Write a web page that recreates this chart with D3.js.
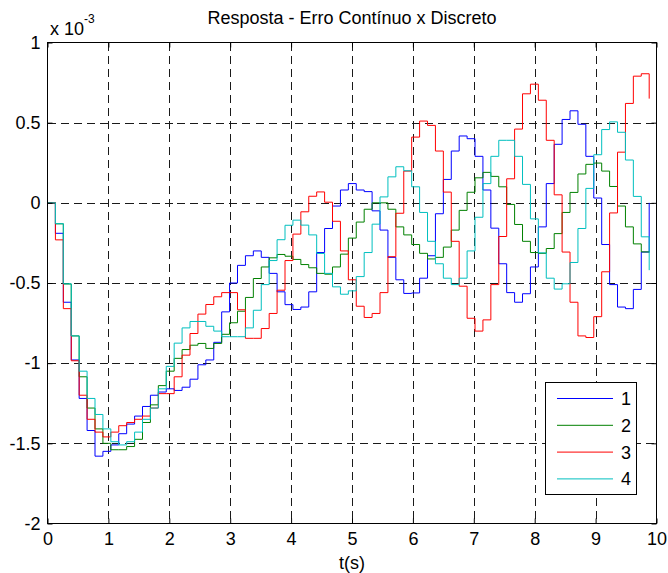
<!DOCTYPE html>
<html>
<head>
<meta charset="utf-8">
<script src="https://cdn.jsdelivr.net/npm/d3@7"></script>
<style>
  html, body { margin: 0; padding: 0; background: #fff; }
  svg { display: block; }
  text { font-family: "Liberation Sans", Arial, sans-serif; fill: #000; }
</style>
</head>
<body>
<svg id="chart" width="668" height="573"></svg>
<script>
// ---- data (values in units of 1e-3) ----
const sampleTime = 0.13;   // seconds between samples
const xTickValues = [0, 1, 2, 3, 4, 5, 6, 7, 8, 9, 10];
const yTickValues = [1, 0.5, 0, -0.5, -1, -1.5, -2];
const yTickLabels = ["1", "0.5", "0", "-0.5", "-1", "-1.5", "-2"];
const seriesNames = ["1", "2", "3", "4"];
const seriesColors = ["#0000ff", "#008000", "#ff0000", "#00bfbf"];

const serie1 = [0, -0.19, -0.62, -0.98, -1.22, -1.42, -1.58, -1.55, -1.51, -1.44,
  -1.38, -1.33, -1.27, -1.20, -1.18, -1.16, -1.17, -1.15, -1.10, -1.01,
  -0.98, -0.87, -0.68, -0.50, -0.39, -0.33, -0.30, -0.34, -0.44, -0.555,
  -0.635, -0.665, -0.65, -0.555, -0.31, -0.16, -0.02, 0.08, 0.12, 0.08,
  0.07, -0.05, -0.17, -0.34, -0.48, -0.565, -0.562, -0.47, -0.33, -0.068,
  0.146, 0.323, 0.417, 0.40, 0.29, 0.08, -0.158, -0.38, -0.56, -0.62,
  -0.567, -0.40, -0.15, 0.12, 0.365, 0.52, 0.574, 0.49, 0.29, 0.03,
  -0.26, -0.51, -0.65, -0.66, -0.54, -0.307, 0.0];

const serie2 = [0, -0.131, -0.506, -0.83, -1.085, -1.28, -1.41, -1.50, -1.54, -1.54,
  -1.52, -1.475, -1.37, -1.26, -1.14, -1.05, -0.97, -0.915, -0.888, -0.877,
  -0.908, -0.877, -0.82, -0.748, -0.676, -0.59, -0.472, -0.40, -0.343, -0.322,
  -0.333, -0.353, -0.385, -0.405, -0.44, -0.445, -0.40, -0.32, -0.22, -0.12,
  -0.04, 0.0, 0.0, -0.04, -0.15, -0.20, -0.26, -0.315, -0.35, -0.34,
  -0.276, -0.17, -0.047, 0.066, 0.156, 0.19, 0.165, 0.10, -0.01, -0.135,
  -0.24, -0.31, -0.315, -0.285, -0.192, -0.06, 0.065, 0.18, 0.24, 0.248,
  0.198, 0.102, -0.02, -0.15, -0.256, -0.306, -0.31];

const serie3 = [0, -0.231, -0.66, -0.985, -1.2, -1.35, -1.43, -1.46, -1.43, -1.39,
  -1.37, -1.35, -1.33, -1.28, -1.19, -1.19, -1.085, -0.95, -0.815, -0.694,
  -0.634, -0.586, -0.56, -0.56, -0.667, -0.845, -0.845, -0.784, -0.69, -0.545,
  -0.36, -0.195, -0.056, 0.041, 0.068, 0.004, -0.115, -0.30, -0.48, -0.645,
  -0.715, -0.69, -0.56, -0.336, -0.065, 0.198, 0.41, 0.51, 0.483, 0.323,
  0.067, -0.24, -0.52, -0.72, -0.80, -0.73, -0.51, -0.21, 0.15, 0.46,
  0.68, 0.74, 0.64, 0.39, 0.05, -0.307, -0.62, -0.83, -0.84, -0.71,
  -0.43, -0.063, 0.316, 0.62, 0.79, 0.805, 0.65];

const serie4 = [0, -0.13, -0.505, -0.83, -1.05, -1.22, -1.32, -1.41, -1.49, -1.51,
  -1.49, -1.43, -1.35, -1.28, -1.16, -1.02, -0.875, -0.78, -0.74, -0.74,
  -0.77, -0.80, -0.835, -0.835, -0.835, -0.78, -0.67, -0.51, -0.36, -0.23,
  -0.14, -0.108, -0.139, -0.20, -0.316, -0.44, -0.524, -0.57, -0.549, -0.46,
  -0.31, -0.133, 0.037, 0.162, 0.225, 0.2, 0.1, -0.06, -0.24, -0.38,
  -0.47, -0.51, -0.47, -0.30, -0.09, 0.12, 0.29, 0.39, 0.39, 0.29,
  0.115, -0.10, -0.312, -0.47, -0.538, -0.505, -0.372, -0.16, 0.09, 0.30,
  0.457, 0.505, 0.44, 0.267, 0.04, -0.212, -0.42];

const allSeries = [serie1, serie2, serie3, serie4];

// ---- layout ----
const svg = d3.select("#chart");
const pLeft = 47.5, pRight = 656.5, pTop = 42.5, pBottom = 523.5;
const x = d3.scaleLinear().domain([0, 10]).range([pLeft, pRight]);
const y = d3.scaleLinear().domain([-2, 1]).range([pBottom, pTop]);
const FONT = 18;

// grid
const grid = svg.append("g").attr("stroke", "#1a1a1a").attr("stroke-width", 1)
  .attr("stroke-dasharray", "8,5").attr("shape-rendering", "crispEdges");
grid.selectAll(".gx").data(xTickValues.slice(1, -1)).join("line").attr("class", "gx")
  .attr("x1", d => Math.round(x(d)) + 0.5).attr("x2", d => Math.round(x(d)) + 0.5)
  .attr("y1", pTop).attr("y2", pBottom);
grid.selectAll(".gy").data(yTickValues.slice(1, -1)).join("line").attr("class", "gy")
  .attr("y1", d => Math.round(y(d)) + 0.5).attr("y2", d => Math.round(y(d)) + 0.5)
  .attr("x1", pLeft).attr("x2", pRight);

// series (stairs)
const line = d3.line()
  .x((d, i) => x(i * sampleTime))
  .y(d => y(d))
  .curve(d3.curveStepAfter);
svg.append("g").selectAll("path").data(allSeries).join("path")
  .attr("d", d => line(d))
  .attr("fill", "none")
  .attr("stroke", (d, i) => seriesColors[i])
  .attr("stroke-width", 1);

// axes (ticks inside)
function styleAxis(g) {
  g.select(".domain").remove();
  g.selectAll(".tick line").attr("stroke", "#000");
  g.selectAll("text").attr("font-size", FONT).attr("font-family", "Liberation Sans, Arial, sans-serif").attr("fill", "#000");
}
svg.append("g").attr("transform", `translate(0,${pBottom})`)
  .call(d3.axisBottom(x).tickValues(xTickValues).tickSize(-5).tickPadding(9).tickFormat(d3.format("d")))
  .call(styleAxis);
svg.append("g").attr("transform", `translate(0,${pTop})`)
  .call(d3.axisTop(x).tickValues(xTickValues).tickSize(-5).tickFormat(""))
  .call(styleAxis);
svg.append("g").attr("transform", `translate(${pLeft},0)`)
  .call(d3.axisLeft(y).tickValues(yTickValues).tickSize(-5).tickPadding(7)
    .tickFormat((d, i) => yTickLabels[i]))
  .call(styleAxis);
svg.append("g").attr("transform", `translate(${pRight},0)`)
  .call(d3.axisRight(y).tickValues(yTickValues).tickSize(-5).tickFormat(""))
  .call(styleAxis);

// box
svg.append("rect").attr("x", pLeft).attr("y", pTop)
  .attr("width", pRight - pLeft).attr("height", pBottom - pTop)
  .attr("fill", "none").attr("stroke", "#000").attr("stroke-width", 1);

// title, labels, exponent
svg.append("text").attr("x", (pLeft + pRight) / 2).attr("y", 24)
  .attr("text-anchor", "middle").attr("font-size", FONT)
  .text("Resposta - Erro Contínuo x Discreto");
svg.append("text").attr("x", (pLeft + pRight) / 2).attr("y", 569)
  .attr("text-anchor", "middle").attr("font-size", FONT).text("t(s)");
const expo = svg.append("text").attr("x", 50).attr("y", 35).attr("font-size", FONT);
expo.append("tspan").text("x 10");
expo.append("tspan").attr("font-size", 12).attr("dy", -12).text("-3");

// legend
const lg = svg.append("g");
lg.append("rect").attr("x", 545.5).attr("y", 382.5).attr("width", 91).attr("height", 112)
  .attr("fill", "#fff").attr("stroke", "#000").attr("stroke-width", 1);
const rows = lg.selectAll(".row").data(seriesNames).join("g").attr("class", "row")
  .attr("transform", (d, i) => `translate(0,${398.5 + i * 26.8})`);
rows.append("line").attr("x1", 557).attr("x2", 613).attr("y1", 0).attr("y2", 0)
  .attr("stroke", (d, i) => seriesColors[i]).attr("stroke-width", 1);
rows.append("text").attr("x", 621).attr("y", 6.5).attr("font-size", FONT).text(d => d);
</script>
</body>
</html>
